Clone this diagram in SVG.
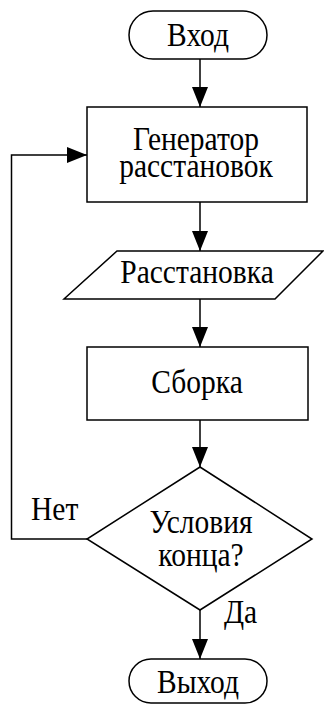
<svg xmlns="http://www.w3.org/2000/svg" width="324" height="704" viewBox="0 0 324 704">
<style>
.s{fill:#fff;stroke:#000;stroke-width:1.5}
.c{fill:none;stroke:#000;stroke-width:1.5}
text{font-family:"Liberation Serif","Times New Roman",serif;font-size:29.5px;fill:#000}
.m{text-anchor:middle}
</style>
<defs>
<marker id="a" markerUnits="userSpaceOnUse" markerWidth="20" markerHeight="16" viewBox="0 0 20 16" refX="20" refY="8" orient="auto">
<path d="M0,0 L20,8 L0,16 Z" fill="#000"/>
</marker>
</defs>
<g id="connectors">
<line class="c" x1="200" y1="59" x2="200" y2="107" marker-end="url(#a)"/>
<line class="c" x1="200" y1="202" x2="200" y2="251" marker-end="url(#a)"/>
<line class="c" x1="200" y1="299" x2="200" y2="347" marker-end="url(#a)"/>
<line class="c" x1="200" y1="420" x2="200" y2="467" marker-end="url(#a)"/>
<line class="c" x1="200" y1="610" x2="200" y2="659" marker-end="url(#a)"/>
<polyline class="c" points="87,539 11.5,539 11.5,155 87,155" marker-end="url(#a)"/>
<g transform="translate(31,520) scale(1,1.12)"><text>Нет</text></g>
<g transform="translate(224,623) scale(1,1.12)"><text>Да</text></g>
</g>
<g id="start">
<rect class="s" x="129" y="11" width="138" height="48" rx="24"/>
<g transform="translate(198,46) scale(1,1.12)"><text class="m">Вход</text></g>
</g>
<g id="generator">
<rect class="s" x="87" y="107" width="220" height="95"/>
<g transform="translate(196,150) scale(1,1.12)"><text class="m">Генератор</text></g>
<g transform="translate(196,177) scale(1,1.12)"><text class="m">расстановок</text></g>
</g>
<g id="placement">
<polygon class="s" points="117,251 323,251 275,299 64,299"/>
<g transform="translate(197,283) scale(1,1.12)"><text class="m">Расстановка</text></g>
</g>
<g id="assembly">
<rect class="s" x="87" y="347" width="221" height="73"/>
<g transform="translate(197,393) scale(1,1.12)"><text class="m">Сборка</text></g>
</g>
<g id="condition">
<polygon class="s" points="200,467 312,539 200,610 87,539"/>
<g transform="translate(201,533) scale(1,1.12)"><text class="m">Условия</text></g>
<g transform="translate(201,566) scale(1,1.12)"><text class="m">конца?</text></g>
</g>
<g id="end">
<rect class="s" x="129" y="659" width="138" height="44" rx="22"/>
<g transform="translate(198,693) scale(1,1.12)"><text class="m">Выход</text></g>
</g>
</svg>
